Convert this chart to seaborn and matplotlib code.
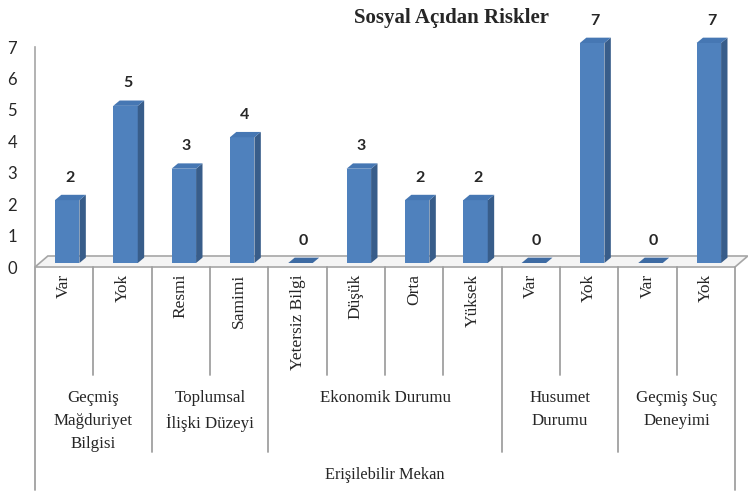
import numpy as np
import matplotlib
matplotlib.use("Agg")
import matplotlib.pyplot as plt
import seaborn as sns
from matplotlib.patches import Polygon
from matplotlib.transforms import ScaledTranslation, blended_transform_factory

# Data
sub_labels = ["Var", "Yok", "Resmi", "Samimi", "Yetersiz Bilgi", "Düşük",
              "Orta", "Yüksek", "Var", "Yok", "Var", "Yok"]
values = [2, 5, 3, 4, 0, 3, 2, 2, 0, 7, 0, 7]
groups = ["Geçmiş\nMağduriyet\nBilgisi", "Toplumsal\nİlişki Düzeyi",
          "Ekonomik Durumu", "Husumet\nDurumu", "Geçmiş Suç\nDeneyimi"]
group_sizes = [2, 2, 4, 2, 2]
outer_label = "Erişilebilir Mekan"
title = "Sosyal Açıdan Riskler"

sns.set_style("white")
plt.rcParams["font.family"] = ["Liberation Serif", "DejaVu Serif"]

W, H = 748, 492
fig = plt.figure(figsize=(W / 100, H / 100), dpi=100)
ax = fig.add_axes([35 / W, 1 - 267 / H, 700 / W, 220 / H])

pos = list(range(len(values)))
front = "#4F81BD"
side = "#385D8A"
top = "#4677B3"

sns.barplot(x=pos, y=values, width=0.42, color=front, saturation=1,
            edgecolor="none", ax=ax)

ax.set_xlim(-0.5, len(values) - 0.5)
ax.set_ylim(0, 7)
ax.set_yticks(range(8))
ax.set_yticklabels([str(v) for v in range(8)], fontfamily="Lato", fontsize=12)
ax.set_xticks([])
ax.set_xlabel("")
for s in ["top", "right", "bottom"]:
    ax.spines[s].set_visible(False)
ax.spines["left"].set_color("#A6A6A6")
ax.spines["left"].set_linewidth(1.2)
ax.tick_params(axis="y", length=4, color="#A6A6A6", width=1.2, pad=9)

# 3D floor
fdx, fdy = 0.22, 0.35
x0, x1 = -0.5, len(values) - 0.5
floor = Polygon([[x0, 0], [x1, 0], [x1 + fdx, fdy], [x0 + fdx, fdy]],
                closed=True, facecolor="#F4F4F4", edgecolor="#A6A6A6",
                lw=1.2, clip_on=False, zorder=0.5)
ax.add_patch(floor)

# 3D bar faces
shift = ax.transData + ScaledTranslation(0.03, 0.04, fig.dpi_scale_trans)
dx, dy = 0.11, 0.17
for p in ax.patches[:]:
    if p is floor:
        continue
    bx, bw, bh = p.get_x(), p.get_width(), p.get_height()
    p.set_transform(shift)
    p.set_clip_on(False)
    p.set_zorder(2)
    sd = Polygon([[bx + bw, 0], [bx + bw, bh], [bx + bw + dx, bh + dy], [bx + bw + dx, dy]],
                 closed=True, facecolor=side, edgecolor="none", transform=shift,
                 clip_on=False, zorder=2)
    tp = Polygon([[bx, bh], [bx + bw, bh], [bx + bw + dx, bh + dy], [bx + dx, bh + dy]],
                 closed=True, facecolor=top if bh > 0 else "#3E6BA3", edgecolor="none",
                 transform=shift, clip_on=False, zorder=2)
    ax.add_patch(sd)
    ax.add_patch(tp)

# value labels
for i, v in enumerate(values):
    ax.annotate(str(v), (i, v), xytext=(4, 19), textcoords="offset points",
                ha="center", va="center", fontsize=11.5, fontweight="bold",
                fontfamily="Lato", annotation_clip=False)

# multi-level category axis
tr = blended_transform_factory(ax.transData, fig.transFigure)
def fy(px):
    return 1 - px / H

line_kw = dict(color="#A0A0A0", lw=1.3, transform=tr, clip_on=False)
for i, lab in enumerate(sub_labels):
    ax.text(i, fy(274), lab, rotation=90, ha="center", va="top",
            fontsize=12.5, transform=tr)

bounds = np.cumsum([0] + group_sizes) - 0.5
start = 0
for g, n in zip(groups, group_sizes):
    for k in range(1, n):
        xb = start + k - 0.5
        ax.plot([xb, xb], [fy(267), fy(375)], **line_kw)
    ax.text(start + (n - 1) / 2, fy(390), g, ha="center", va="top",
            fontsize=12.2, linespacing=1.6, transform=tr)
    start += n
for j, xb in enumerate(bounds):
    end = 490 if j in (0, len(bounds) - 1) else 452
    ax.plot([xb, xb], [fy(267), fy(end)], **line_kw)

ax.text((len(values) - 1) / 2, fy(475), outer_label, ha="center", va="center",
        fontsize=11.8, transform=tr)

fig.text(452 / W, 1 - 18 / H, title, ha="center", va="center",
         fontsize=15, fontweight="bold")

fig.savefig("out.png", dpi=100)
